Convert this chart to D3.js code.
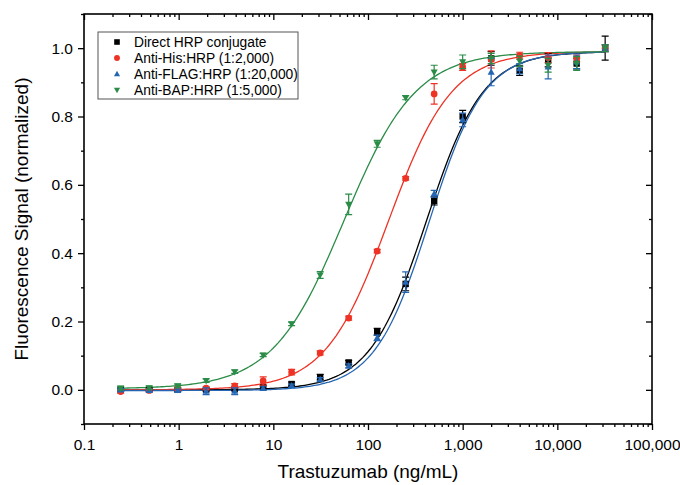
<!DOCTYPE html>
<html>
<head>
<meta charset="utf-8">
<script src="https://cdn.jsdelivr.net/npm/d3@7"></script>
<style>
  body { margin: 0; background: #fff; }
  svg { display: block; font-family: "Liberation Sans", Arial, sans-serif; }
</style>
</head>
<body>
<div id="chart"></div>
<script>
// Trastuzumab dilution series (ng/mL)
const concentrations = [0.244, 0.488, 0.977, 1.95, 3.91, 7.81, 15.6, 31.25, 62.5, 125, 250, 500, 1000, 2000, 4000, 8000, 16000, 32000];

// normalized signal + error
const directHRP    = [0.000, 0.000, 0.000, 0.000, 0.002, 0.008, 0.017, 0.037, 0.080, 0.170, 0.310, 0.553, 0.800, 0.970, 0.934, 0.965, 0.955, 1.000];
const directErr    = [0.004, 0.004, 0.004, 0.004, 0.004, 0.004, 0.006, 0.008, 0.006, 0.010, 0.020, 0.012, 0.018, 0.020, 0.014, 0.020, 0.016, 0.035];
const antiHis      = [-0.005, -0.002, 0.003, 0.005, 0.012, 0.026, 0.052, 0.108, 0.210, 0.406, 0.619, 0.866, 0.945, 0.967, 0.978, 0.972, 0.970, 1.000];
const antiHisErr   = [0.005, 0.004, 0.004, 0.004, 0.006, 0.012, 0.008, 0.006, 0.006, 0.005, 0.005, 0.030, 0.010, 0.025, 0.010, 0.015, 0.010, 0.010];
const antiFlag     = [0.000, -0.002, -0.002, -0.004, -0.004, 0.004, 0.012, 0.030, 0.070, 0.152, 0.315, 0.574, 0.790, 0.930, 0.940, 0.945, 0.960, 1.000];
const antiFlagErr  = [0.004, 0.004, 0.004, 0.010, 0.010, 0.005, 0.005, 0.006, 0.006, 0.008, 0.030, 0.010, 0.020, 0.040, 0.015, 0.035, 0.020, 0.010];
const antiBap      = [0.005, 0.006, 0.012, 0.027, 0.053, 0.102, 0.193, 0.336, 0.543, 0.720, 0.855, 0.930, 0.960, 0.970, 0.962, 0.950, 0.955, 1.000];
const antiBapErr   = [0.005, 0.005, 0.005, 0.005, 0.005, 0.005, 0.005, 0.010, 0.030, 0.010, 0.006, 0.020, 0.020, 0.015, 0.015, 0.020, 0.020, 0.010];

// four-parameter logistic fits (bottom, top, EC50, Hill)
const fitBottom = [0.000, 0.000, -0.002, 0.003];
const fitTop    = [0.990, 0.990, 0.990, 0.990];
const fitEC50   = [415, 165, 445, 56];
const fitHill   = [1.45, 1.3, 1.5, 1.15];

const seriesNames = ['Direct HRP conjugate', 'Anti-His:HRP (1:2,000)', 'Anti-FLAG:HRP (1:20,000)', 'Anti-BAP:HRP (1:5,000)'];
const seriesValues = [directHRP, antiHis, antiFlag, antiBap];
const seriesErrors = [directErr, antiHisErr, antiFlagErr, antiBapErr];
const seriesColors = ['#000000', '#ee3224', '#2566b3', '#2a8c47'];
const seriesSymbols = ['square', 'circle', 'up', 'down'];

const xTickValues = [0.1, 1, 10, 100, 1000, 10000, 100000];
const yTickValues = [0.0, 0.2, 0.4, 0.6, 0.8, 1.0];

const width = 680, height = 485;
const margin = { top: 14, right: 28, bottom: 61, left: 84 };

const svg = d3.select('#chart').append('svg')
    .attr('width', width)
    .attr('height', height);

const x = d3.scaleLog().domain([0.1, 100000]).range([margin.left, width - margin.right]);
const y = d3.scaleLinear().domain([-0.1, 1.1]).range([height - margin.bottom, margin.top]);

// minor ticks
const xMinor = [];
for (let e = -1; e < 5; e++) {
    for (let m = 2; m <= 9; m++) xMinor.push(m * Math.pow(10, e));
}
const yMinor = [-0.1, 0.1, 0.3, 0.5, 0.7, 0.9, 1.1];

const fmtX = d => d < 1 ? '0.1' : d3.format(',')(d);

// bottom axis
svg.append('g')
    .attr('transform', `translate(0,${y.range()[0]})`)
    .call(d3.axisBottom(x).tickValues(xTickValues).tickFormat(fmtX).tickSizeOuter(0).tickSize(6).tickPadding(9))
    .call(g => g.select('.domain').remove())
    .call(g => g.selectAll('text').attr('font-size', 15.5).attr('font-family', '"Liberation Sans", Arial'));
svg.append('g')
    .attr('transform', `translate(0,${y.range()[0]})`)
    .call(d3.axisBottom(x).tickValues(xMinor).tickFormat('').tickSizeOuter(0).tickSize(3))
    .call(g => g.select('.domain').remove());

// top axis, ticks inward
svg.append('g')
    .attr('transform', `translate(0,${y.range()[1]})`)
    .call(d3.axisBottom(x).tickValues(xTickValues).tickFormat('').tickSize(6))
    .call(g => g.select('.domain').remove());
svg.append('g')
    .attr('transform', `translate(0,${y.range()[1]})`)
    .call(d3.axisBottom(x).tickValues(xMinor).tickFormat('').tickSize(3))
    .call(g => g.select('.domain').remove());

// left axis
svg.append('g')
    .attr('transform', `translate(${x.range()[0]},0)`)
    .call(d3.axisLeft(y).tickValues(yTickValues).tickFormat(d3.format('.1f')).tickSize(6).tickPadding(5))
    .call(g => g.select('.domain').remove())
    .call(g => g.selectAll('text').attr('font-size', 15.5).attr('font-family', '"Liberation Sans", Arial'));
svg.append('g')
    .attr('transform', `translate(${x.range()[0]},0)`)
    .call(d3.axisLeft(y).tickValues(yMinor).tickFormat('').tickSize(3))
    .call(g => g.select('.domain').remove());

// right axis, ticks inward
svg.append('g')
    .attr('transform', `translate(${x.range()[1]},0)`)
    .call(d3.axisLeft(y).tickValues(yTickValues).tickFormat('').tickSize(6))
    .call(g => g.select('.domain').remove());
svg.append('g')
    .attr('transform', `translate(${x.range()[1]},0)`)
    .call(d3.axisLeft(y).tickValues(yMinor).tickFormat('').tickSize(3))
    .call(g => g.select('.domain').remove());

svg.selectAll('.tick line').attr('stroke', '#000').attr('stroke-width', 1.3);

// frame
svg.append('rect')
    .attr('x', x.range()[0])
    .attr('y', y.range()[1])
    .attr('width', x.range()[1] - x.range()[0])
    .attr('height', y.range()[0] - y.range()[1])
    .attr('fill', 'none')
    .attr('stroke', '#000')
    .attr('stroke-width', 1.6);

// axis titles
svg.append('text')
    .attr('x', (x.range()[0] + x.range()[1]) / 2)
    .attr('y', 478)
    .attr('text-anchor', 'middle')
    .attr('font-size', 19)
    .text('Trastuzumab (ng/mL)');

svg.append('text')
    .attr('transform', `translate(28,${(y.range()[0] + y.range()[1]) / 2}) rotate(-90)`)
    .attr('text-anchor', 'middle')
    .attr('font-size', 19)
    .text('Fluorescence Signal (normalized)');

// symbol paths
function symbolPath(type, s) {
    if (type === 'square') return `M${-s},${-s}H${s}V${s}H${-s}Z`;
    if (type === 'circle') return d3.symbol(d3.symbolCircle, Math.PI * s * s * 1.1)();
    if (type === 'up') return `M0,${-s * 1.2}L${s * 1.1},${s * 0.8}L${-s * 1.1},${s * 0.8}Z`;
    return `M0,${s * 1.2}L${s * 1.1},${-s * 0.8}L${-s * 1.1},${-s * 0.8}Z`;
}

// fitted curves
const logMin = Math.log10(concentrations[0]);
const logMax = Math.log10(concentrations[concentrations.length - 1]);
const curveX = d3.range(0, 201).map(i => Math.pow(10, logMin + (logMax - logMin) * i / 200));
const line = d3.line().x(d => x(d[0])).y(d => y(d[1]));

seriesNames.forEach((name, k) => {
    const pts = curveX.map(c => [c, fitBottom[k] + (fitTop[k] - fitBottom[k]) / (1 + Math.pow(fitEC50[k] / c, fitHill[k]))]);
    svg.append('path')
        .attr('d', line(pts))
        .attr('fill', 'none')
        .attr('stroke', seriesColors[k])
        .attr('stroke-width', 1.3);
});

// error bars + markers
seriesNames.forEach((name, k) => {
    const g = svg.append('g').attr('class', 'series');
    const data = concentrations.map((c, i) => ({ c, v: seriesValues[k][i], e: seriesErrors[k][i] }));
    const cap = 3.5;
    g.selectAll('path.err')
        .data(data)
        .join('path')
        .attr('class', 'err')
        .attr('d', d => {
            const cx = x(d.c), y1 = y(d.v + d.e), y2 = y(d.v - d.e);
            return `M${cx - cap},${y1}H${cx + cap}M${cx},${y1}V${y2}M${cx - cap},${y2}H${cx + cap}`;
        })
        .attr('fill', 'none')
        .attr('stroke', seriesColors[k])
        .attr('stroke-width', 1.2);
    g.selectAll('path.mark')
        .data(data)
        .join('path')
        .attr('class', 'mark')
        .attr('transform', d => `translate(${x(d.c)},${y(d.v)})`)
        .attr('d', symbolPath(seriesSymbols[k], 3.2))
        .attr('fill', seriesColors[k]);
});

// legend
const legend = svg.append('g').attr('transform', 'translate(98,32)');
legend.append('rect')
    .attr('width', 200)
    .attr('height', 67)
    .attr('fill', '#fff')
    .attr('stroke', '#555')
    .attr('stroke-width', 1);
seriesNames.forEach((name, k) => {
    const row = legend.append('g').attr('transform', `translate(0,${10 + k * 16})`);
    row.append('path')
        .attr('transform', 'translate(19,0)')
        .attr('d', symbolPath(seriesSymbols[k], 2.8))
        .attr('fill', seriesColors[k]);
    row.append('text')
        .attr('x', 36)
        .attr('y', 5)
        .attr('font-size', 13.8)
        .text(name);
});
</script>
</body>
</html>
